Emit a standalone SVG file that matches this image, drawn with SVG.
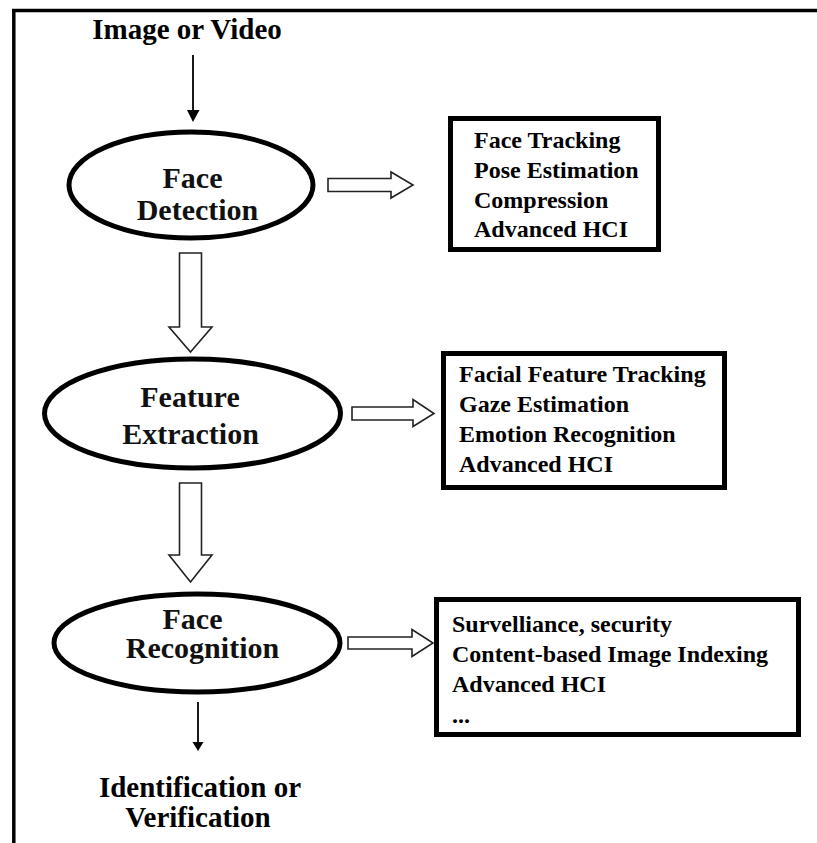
<svg xmlns="http://www.w3.org/2000/svg" width="817" height="843" viewBox="0 0 817 843">
<style>
.frame{stroke:#000;stroke-width:3.5;fill:none}
.ell{fill:#fff;stroke:#000;stroke-width:5}
.box{fill:#fff;stroke:#000;stroke-width:5}
.hollow{fill:#fff;stroke:#222;stroke-width:1.6;stroke-linejoin:miter}
.thin{stroke:#000;stroke-width:1.8;fill:none}
.head{fill:#000;stroke:none}
.lbl{font-family:"Liberation Serif","Times New Roman",serif;font-size:30px;font-weight:bold;fill:#111;text-anchor:middle}
.ttl{font-family:"Liberation Serif","Times New Roman",serif;font-size:29px;font-weight:bold;fill:#000;text-anchor:middle}
.item{font-family:"Liberation Serif","Times New Roman",serif;font-size:24px;font-weight:bold;fill:#000}
</style>
<rect x="0" y="0" width="817" height="843" fill="#fff"/>
<g id="frame">
<line class="frame" x1="12" y1="10.5" x2="817" y2="10.5"/>
<line class="frame" x1="13.8" y1="9" x2="13.8" y2="843"/>
</g>
<g id="connectors">
<line class="thin" x1="193" y1="55" x2="193" y2="111"/>
<polygon class="head" points="187,110 199.5,110 193,122"/>
<polygon class="hollow" points="179.5,253 201.5,253 201.5,327 212,327 190.5,352 169,327 179.5,327"/>
<polygon class="hollow" points="179.5,483 201.5,483 201.5,555 212,555 190.5,582 169,555 179.5,555"/>
<polygon class="hollow" points="328,178.5 391,178.5 391,172 413,185 391,198 391,191.5 328,191.5"/>
<polygon class="hollow" points="352,407 413,407 413,399.5 434,413.5 413,426.5 413,420 352,420"/>
<polygon class="hollow" points="348,637 412,637 412,629.5 433,643 412,656.5 412,649 348,649"/>
<line class="thin" x1="198" y1="702" x2="198" y2="743"/>
<polygon class="head" points="192.5,742 203.5,742 198,751"/>
</g>
<g id="input">
<text class="ttl" x="187" y="39">Image or Video</text>
</g>
<g id="face-detection">
<ellipse class="ell" cx="191" cy="185" rx="122" ry="53"/>
<text class="lbl" x="192.5" y="188">Face</text>
<text class="lbl" x="197.5" y="220">Detection</text>
</g>
<g id="detection-apps">
<rect class="box" x="450.5" y="118.5" width="208" height="131"/>
<text class="item" x="474" y="148">Face Tracking</text>
<text class="item" x="474" y="178">Pose Estimation</text>
<text class="item" x="474" y="208">Compression</text>
<text class="item" x="474" y="237">Advanced HCI</text>
</g>
<g id="feature-extraction">
<ellipse class="ell" cx="192.5" cy="413.5" rx="148" ry="54.5"/>
<text class="lbl" x="190" y="407">Feature</text>
<text class="lbl" x="190.5" y="444">Extraction</text>
</g>
<g id="feature-apps">
<rect class="box" x="443.5" y="353.5" width="281" height="134"/>
<text class="item" x="459" y="382">Facial Feature Tracking</text>
<text class="item" x="459" y="412">Gaze Estimation</text>
<text class="item" x="459" y="442">Emotion Recognition</text>
<text class="item" x="459" y="472">Advanced HCI</text>
</g>
<g id="face-recognition">
<ellipse class="ell" cx="197" cy="643" rx="143" ry="49"/>
<text class="lbl" x="192.5" y="629">Face</text>
<text class="lbl" x="202.5" y="658">Recognition</text>
</g>
<g id="recognition-apps">
<rect class="box" x="436.5" y="599.5" width="362" height="135"/>
<text class="item" x="452" y="632">Survelliance, security</text>
<text class="item" x="452" y="662">Content-based Image Indexing</text>
<text class="item" x="452" y="692">Advanced HCI</text>
<text class="item" x="452" y="723">...</text>
</g>
<g id="output">
<text class="ttl" x="200" y="797">Identification or</text>
<text class="ttl" x="198" y="827">Verification</text>
</g>
</svg>
